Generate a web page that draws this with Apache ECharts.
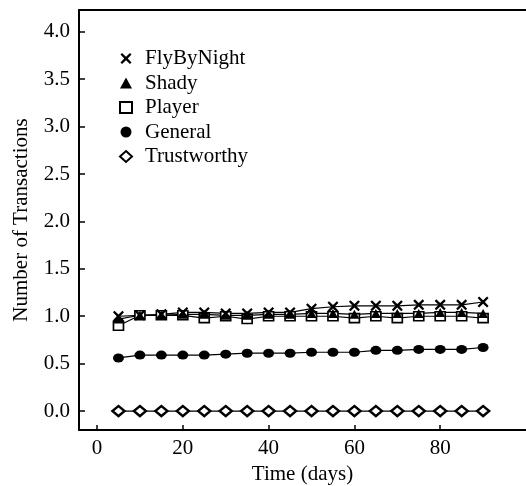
<!DOCTYPE html>
<html>
<head>
<meta charset="utf-8">
<script src="https://cdn.jsdelivr.net/npm/echarts@6/dist/echarts.min.js"></script>
<style>
  html, body { margin: 0; padding: 0; background: #fff; }
  #chart { width: 526px; height: 486px; }
</style>
</head>
<body>
<div id="chart"></div>
<script>
const days = [5, 10, 15, 20, 25, 30, 35, 40, 45, 50, 55, 60, 65, 70, 75, 80, 85, 90]
const flyByNight = [1.00, 1.01, 1.02, 1.04, 1.04, 1.03, 1.03, 1.04, 1.04, 1.08, 1.10, 1.11, 1.11, 1.11, 1.12, 1.12, 1.12, 1.15]
const shady = [0.97, 1.01, 1.01, 1.02, 1.02, 1.01, 1.01, 1.02, 1.02, 1.03, 1.03, 1.02, 1.03, 1.03, 1.03, 1.04, 1.04, 1.03]
const player = [0.90, 1.01, 1.01, 1.01, 0.98, 1.00, 0.97, 1.00, 1.00, 1.00, 1.00, 0.98, 1.00, 0.98, 1.00, 1.00, 1.00, 0.98]
const general = [0.56, 0.59, 0.59, 0.59, 0.59, 0.60, 0.61, 0.61, 0.61, 0.62, 0.62, 0.62, 0.64, 0.64, 0.65, 0.65, 0.65, 0.67]
const trustworthy = [0, 0, 0, 0, 0, 0, 0, 0, 0, 0, 0, 0, 0, 0, 0, 0, 0, 0]
const xTicks = [0, 20, 40, 60, 80]
const yTicks = [0, 0.5, 1, 1.5, 2, 2.5, 3, 3.5, 4]

// bold "x" marker
const crossPath = "path://M1.4,0 L5,3.4 L8.6,0 L10,1.4 L6.6,5 L10,8.6 L8.6,10 L5,6.6 L1.4,10 L0,8.6 L3.4,5 L0,1.4 Z"
const font = "Liberation Serif"

const pairs = (ys) => days.map((d, i) => [d, ys[i]])

const chart = echarts.init(document.getElementById("chart"), null, { renderer: "canvas" })

function line(name, ys, symbol, size, filled, bw) {
  return {
    name,
    type: "line",
    data: pairs(ys),
    symbol,
    symbolSize: size,
    showAllSymbol: true,
    lineStyle: { color: "#000", width: 1.2 },
    itemStyle: { color: filled ? "#000" : "#fff", borderColor: "#000", borderWidth: filled ? 0 : bw },
    emphasis: { disabled: true }
  }
}

chart.setOption({
  animation: false,
  grid: { left: 79, right: 0, top: 10, bottom: 56, outerBoundsMode: "none", containLabel: false },
  legend: {
    orient: "vertical",
    left: 114,
    top: 43,
    itemGap: 3.5,
    itemWidth: 12,
    itemHeight: 11,
    selectedMode: false,
    textStyle: { fontFamily: font, fontSize: 21, color: "#000", padding: [0, 0, 0, 8] },
    data: [
      { name: "FlyByNight", icon: crossPath },
      { name: "Shady", icon: "triangle" },
      { name: "Player", icon: "rect" },
      { name: "General", icon: "circle" },
      { name: "Trustworthy", icon: "diamond" }
    ]
  },
  xAxis: [
    {
      type: "value",
      min: -4.2,
      max: 100,
      name: "Time (days)",
      nameLocation: "middle",
      nameGap: 31,
      nameTextStyle: { fontFamily: font, fontSize: 21, color: "#000" },
      axisLine: { onZero: false, lineStyle: { color: "#000", width: 2 } },
      axisTick: { inside: true, length: 5, customValues: xTicks, lineStyle: { color: "#000", width: 1.5 } },
      axisLabel: { customValues: xTicks, fontFamily: font, fontSize: 21, color: "#000", margin: 8 },
      splitLine: { show: false }
    },
    {
      type: "value",
      position: "top",
      min: -4.2,
      max: 100,
      axisLine: { show: true, onZero: false, lineStyle: { color: "#000", width: 2 } },
      axisTick: { show: false },
      axisLabel: { show: false },
      splitLine: { show: false }
    }
  ],
  yAxis: {
    type: "value",
    min: -0.2,
    max: 4.23,
    name: "Number of Transactions",
    nameLocation: "middle",
    nameGap: 47,
    nameTextStyle: { fontFamily: font, fontSize: 21, color: "#000" },
    axisLine: { show: true, onZero: false, lineStyle: { color: "#000", width: 2 } },
    axisTick: { inside: true, length: 6, customValues: yTicks, lineStyle: { color: "#000", width: 1.5 } },
    axisLabel: {
      customValues: yTicks,
      fontFamily: font,
      fontSize: 21,
      color: "#000",
      margin: 9,
      formatter: (v) => v.toFixed(1)
    },
    splitLine: { show: false }
  },
  series: [
    line("Trustworthy", trustworthy, "diamond", [12, 10], false, 2.5),
    line("General", general, "circle", [11, 9], true, 0),
    line("Player", player, "rect", [10, 9], false, 1.6),
    line("Shady", shady, "triangle", [10, 9], true, 0),
    line("FlyByNight", flyByNight, crossPath, 11, true, 0)
  ]
})
</script>
</body>
</html>
